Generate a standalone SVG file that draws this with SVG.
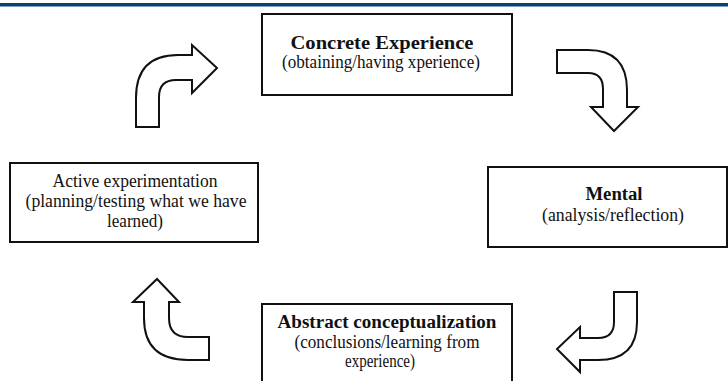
<svg xmlns="http://www.w3.org/2000/svg" width="728" height="381" viewBox="0 0 728 381">
<style>
.box{fill:#fff;stroke:#111;stroke-width:2}
.arr{fill:#fff;stroke:#111;stroke-width:2;stroke-linejoin:miter}
text{font-family:"Liberation Serif","Times New Roman",serif;font-size:18px;fill:#111;text-anchor:middle}
.b{font-weight:bold}
</style>
<rect x="0" y="0" width="728" height="381" fill="#fff"/>
<rect x="0" y="3" width="728" height="3.5" fill="#0b3f78"/>
<g id="concrete">
<rect class="box" x="262" y="14" width="250" height="81"/>
<text class="b" x="382" y="49" textLength="183" lengthAdjust="spacingAndGlyphs">Concrete Experience</text>
<text x="381" y="68" textLength="198" lengthAdjust="spacingAndGlyphs">(obtaining/having xperience)</text>
</g>
<g id="mental">
<rect class="box" x="488" y="167" width="239" height="80"/>
<text class="b" x="614" y="200" textLength="57" lengthAdjust="spacingAndGlyphs">Mental</text>
<text x="613" y="221" textLength="142" lengthAdjust="spacingAndGlyphs">(analysis/reflection)</text>
</g>
<g id="abstract">
<rect class="box" x="262" y="304" width="250" height="90"/>
<text class="b" x="387" y="328" textLength="219" lengthAdjust="spacingAndGlyphs">Abstract conceptualization</text>
<text x="387" y="348" textLength="185" lengthAdjust="spacingAndGlyphs">(conclusions/learning from</text>
<text x="380" y="367" textLength="70" lengthAdjust="spacingAndGlyphs">experience)</text>
</g>
<g id="active">
<rect class="box" x="10" y="163" width="248" height="79"/>
<text x="135" y="187" textLength="165" lengthAdjust="spacingAndGlyphs">Active experimentation</text>
<text x="136" y="207" textLength="221" lengthAdjust="spacingAndGlyphs">(planning/testing what we have</text>
<text x="135" y="227" textLength="56" lengthAdjust="spacingAndGlyphs">learned)</text>
</g>
<g id="connectors">
<path class="arr" d="M136,127 L136,98 Q136,55 178,55 L192,55 L192,45 L217,68 L192,93 L192,80 L176,80 Q159,80 159,97 L159,127 Z"/>
<path class="arr" d="M557,50 L588,50 Q627,50 627,90 L627,107 L638,107 L614,131 L591,107 L603,107 L603,89 Q603,73 588,73 L557,73 Z"/>
<path class="arr" d="M614,292 L637,292 L637,322 Q637,360 598,360 L580,360 L580,372 L557,349 L580,327 L580,338 L598,338 Q614,338 614,322 Z"/>
<path class="arr" d="M209,337 L188,337 Q169,337 169,318 L169,302 L179,302 L157,279 L133,302 L144,302 L144,318 Q144,360 188,360 L209,360 Z"/>
</g>
</svg>
